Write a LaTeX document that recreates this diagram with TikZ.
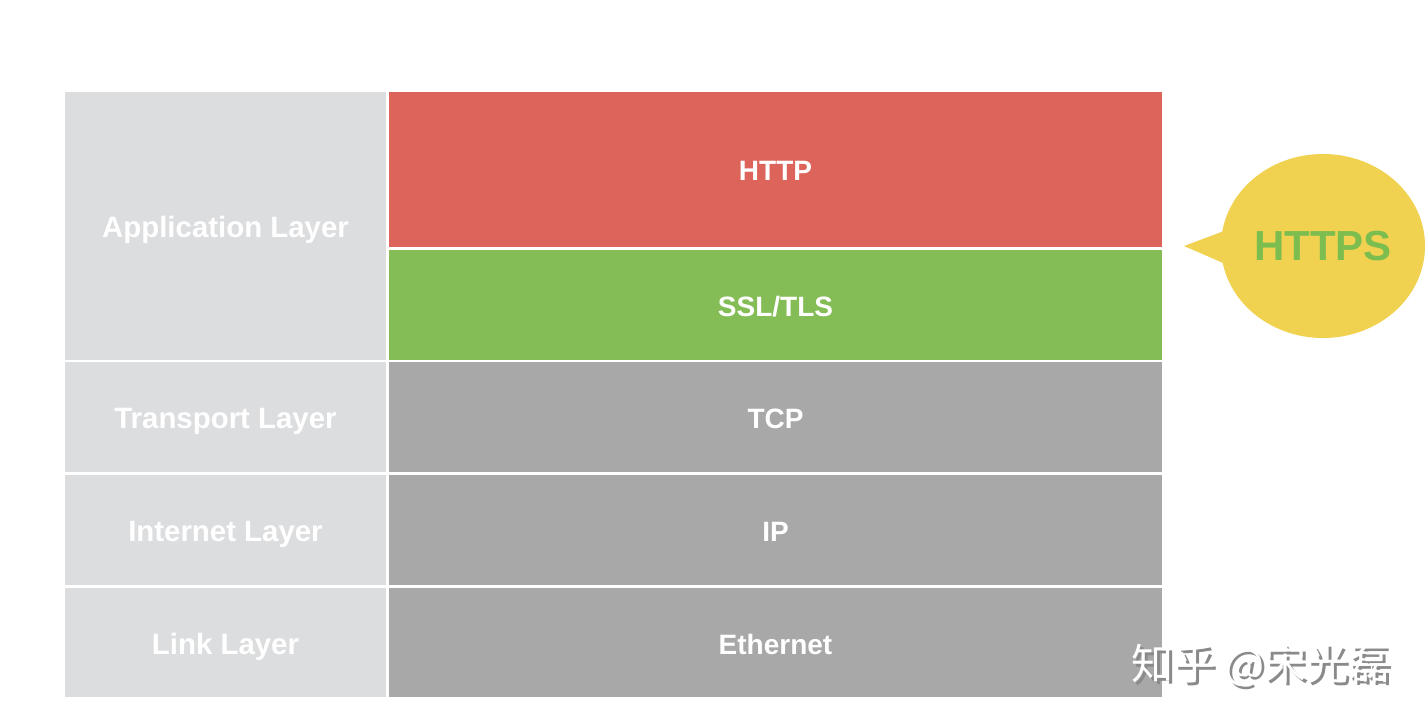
\documentclass[tikz,border=0pt]{standalone}
\usepackage{fontspec}
\setmainfont{Liberation Sans}
\newfontfamily\cjk{Noto Sans CJK SC}
\usetikzlibrary{shapes.geometric}
\definecolor{leftgray}{HTML}{DCDDDF}
\definecolor{httpred}{HTML}{DC645A}
\definecolor{sslgreen}{HTML}{84BC55}
\definecolor{darkgray}{HTML}{A7A8A7}
\definecolor{bubbleyellow}{HTML}{F0D250}
\definecolor{httpsgreen}{HTML}{7BBD4F}
\definecolor{wmshadow}{HTML}{8A8A8A}
\tikzset{
  cell/.style={rectangle, inner sep=0pt, outer sep=0pt, text=white, text height=11.5pt, text depth=0pt,
    font=\bfseries\fontsize{14}{16}\selectfont},
  leftcell/.style={cell, fill=leftgray, minimum width=160.5pt, font=\bfseries\fontsize{14.7}{17}\selectfont},
  rightcell/.style={cell, minimum width=386.5pt},
}
\begin{document}
\begin{tikzpicture}[x=0.5pt, y=-0.5pt]
\useasboundingbox[fill=white] (0,0) rectangle (1428,726);
% left column
\node[leftcell, minimum height=134pt] (app) at (225.5,226) {Application Layer};
\node[leftcell, minimum height=55pt] (trans) at (225.5,417) {Transport Layer};
\node[leftcell, minimum height=55pt] (inet) at (225.5,530) {Internet Layer};
\node[leftcell, minimum height=54.5pt] (link) at (225.5,642.5) {Link Layer};
% right column
\node[rightcell, fill=httpred, minimum height=77.5pt] (http) at (775.5,169.5) {HTTP};
\node[rightcell, fill=sslgreen, minimum height=55pt] (ssl) at (775.5,305) {SSL/TLS};
\node[rightcell, fill=darkgray, minimum height=55pt] (tcp) at (775.5,417) {TCP};
\node[rightcell, fill=darkgray, minimum height=55pt] (ip) at (775.5,530) {IP};
\node[rightcell, fill=darkgray, minimum height=54.5pt] (eth) at (775.5,642.5) {Ethernet};
% bubble
\coordinate (tip) at (1184,246);
\fill[bubbleyellow] (tip) -- (1232,228) -- (1230,266) -- cycle;
\node[ellipse, fill=bubbleyellow, minimum width=102pt, minimum height=92pt, inner sep=0pt,
  text=httpsgreen, font=\bfseries\fontsize{21}{24}\selectfont] (https) at (1323,246) {HTTPS};
% watermark
\node[text=wmshadow, font=\cjk\fontsize{21}{24}\selectfont, anchor=west] (wmshadow) at (1127,668) {知乎 @宋光磊};
\node[text=white, font=\cjk\fontsize{21}{24}\selectfont, anchor=west] (wm) at (1124,665) {知乎 @宋光磊};
\end{tikzpicture}
\end{document}
